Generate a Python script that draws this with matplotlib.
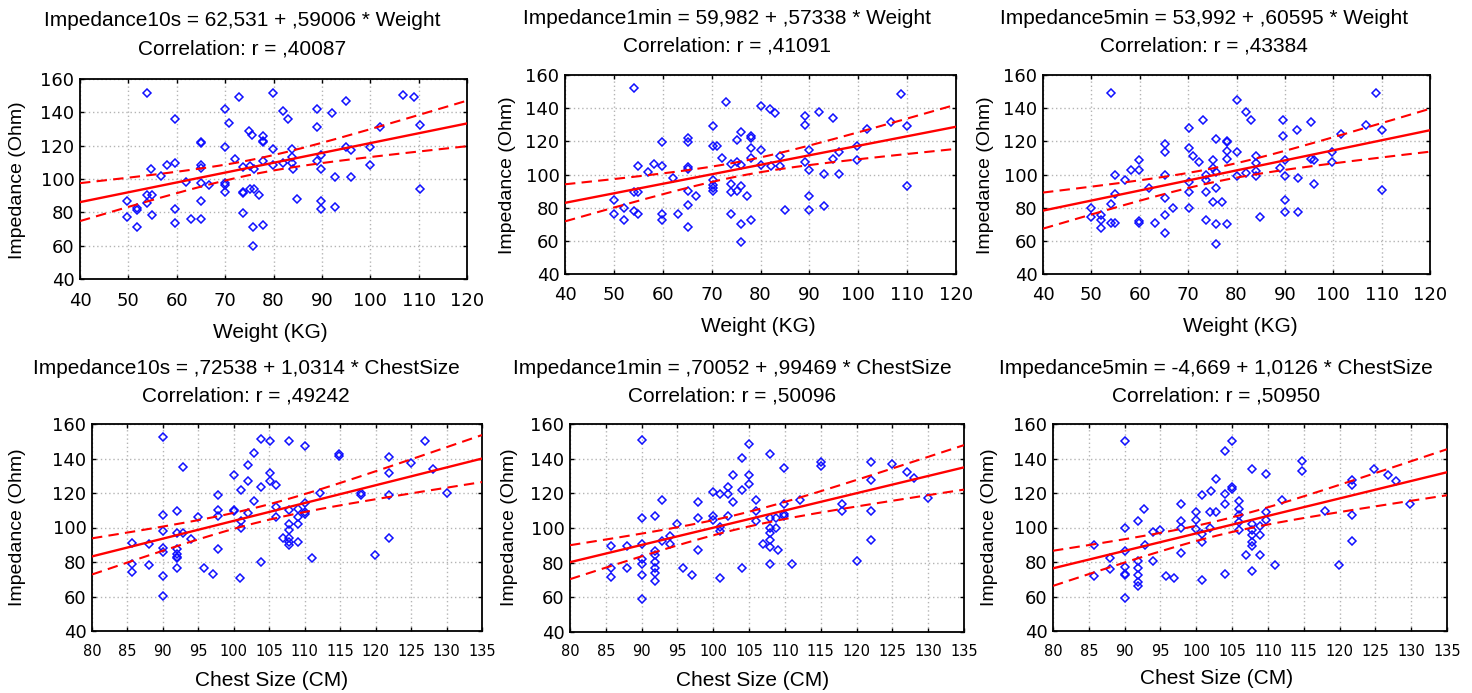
import numpy as np
import matplotlib
matplotlib.use("Agg")
import matplotlib.pyplot as plt
from matplotlib import font_manager

W, H = 1472, 693

# scatter points (x, impedance)
w10 = [(53.9, 151.4), (59.6, 135.8), (65.1, 122.4), (65.1, 121.4), (70.0, 141.8), (70.8, 133.4), (72.9, 149.0), (74.9, 128.8),
       (75.6, 126.4), (77.9, 125.8), (77.9, 123.0), (77.9, 122.4), (79.9, 151.4), (82.0, 141.0), (82.9, 136.0), (89.0, 142.0),
       (89.0, 131.0), (92.0, 139.4), (94.9, 146.8), (102.0, 131.4), (106.8, 150.4), (109.0, 149.2), (110.2, 132.4), (110.2, 93.8),
       (70.0, 119.4), (72.0, 112.0), (73.7, 107.2), (75.1, 107.6), (75.9, 105.8), (77.9, 110.6), (79.9, 118.0), (79.9, 108.4),
       (82.0, 109.4), (83.9, 118.0), (83.9, 113.4), (83.9, 109.4), (84.1, 105.8), (89.0, 110.8), (89.9, 114.4), (89.9, 105.8),
       (92.8, 101.0), (94.9, 119.4), (96.1, 117.4), (96.1, 101.0), (99.9, 119.4), (99.9, 108.4), (54.6, 105.8), (58.0, 108.4),
       (59.6, 109.4), (56.7, 102.0), (61.9, 98.4), (65.1, 108.4), (65.1, 106.4), (65.1, 97.4), (66.7, 96.4), (70.0, 97.4),
       (70.0, 96.4), (70.0, 92.4), (73.6, 92.4), (73.6, 91.4), (75.1, 93.8), (75.9, 93.8), (77.0, 90.4), (49.8, 86.8),
       (49.8, 77.0), (51.8, 82.4), (51.8, 81.4), (51.8, 71.0), (53.9, 90.4), (54.8, 90.4), (53.9, 85.4), (54.8, 78.4),
       (59.6, 81.8), (59.6, 73.4), (62.9, 75.8), (65.1, 86.8), (65.1, 75.8), (73.7, 79.4), (75.8, 71.0), (75.8, 60.0),
       (77.9, 72.4), (84.9, 87.8), (89.9, 86.8), (89.9, 81.8), (92.8, 83.0)]

w1m = [(54.1, 152.2), (73.0, 143.8), (80.1, 141.2), (82.0, 139.2), (83.0, 137.3), (89.2, 135.3), (89.2, 130.1), (91.9, 137.8),
       (94.9, 134.1), (108.8, 148.4), (106.7, 131.7), (101.8, 127.7), (110.0, 129.1), (70.2, 129.1), (70.2, 117.1), (71.0, 117.1),
       (59.9, 119.3), (65.2, 122.1), (65.2, 119.3), (65.2, 104.6), (65.2, 103.6), (76.0, 125.7), (75.2, 120.7), (78.0, 123.1),
       (78.0, 122.1), (78.0, 116.1), (78.0, 110.0), (80.1, 114.7), (72.2, 110.0), (73.9, 106.6), (75.2, 107.6), (76.0, 105.6),
       (80.1, 106.0), (82.1, 105.0), (84.0, 111.0), (84.0, 105.0), (89.9, 114.7), (89.2, 107.6), (89.9, 102.6), (94.9, 109.6),
       (96.1, 113.3), (96.1, 100.2), (92.9, 100.2), (99.8, 117.1), (99.8, 108.6), (110.0, 93.0), (54.9, 105.0), (58.2, 106.2),
       (59.9, 105.0), (57.0, 101.6), (62.0, 97.6), (54.1, 89.6), (54.9, 89.6), (50.0, 84.5), (50.0, 76.1), (52.1, 79.5),
       (52.1, 72.5), (54.1, 78.1), (54.9, 76.1), (59.9, 76.1), (59.9, 72.5), (63.1, 76.1), (65.2, 90.2), (65.2, 81.9),
       (65.2, 68.5), (66.9, 87.0), (70.2, 96.6), (70.2, 93.6), (70.2, 91.6), (70.2, 90.0), (73.9, 94.2), (73.9, 89.6),
       (75.2, 90.2), (76.0, 93.0), (73.9, 76.1), (77.2, 87.0), (78.0, 72.5), (76.0, 69.9), (76.0, 59.0), (85.0, 78.5),
       (89.9, 87.0), (89.9, 78.5), (92.9, 80.9)]

w5m = [(54.1, 149.4), (108.8, 149.4), (80.1, 145.0), (82.0, 137.6), (83.0, 132.6), (73.0, 132.6), (70.2, 128.0), (89.6, 132.6),
       (89.6, 123.0), (92.5, 126.6), (95.4, 131.4), (106.7, 130.0), (110.0, 126.6), (101.7, 124.4), (75.8, 121.6), (78.0, 120.4),
       (78.0, 119.6), (78.0, 114.4), (78.0, 109.6), (80.1, 113.4), (65.2, 118.4), (65.2, 113.4), (70.2, 116.0), (71.0, 111.0),
       (72.3, 107.4), (75.1, 108.6), (75.1, 104.0), (75.8, 101.6), (73.7, 99.4), (73.7, 96.4), (84.0, 111.4), (84.0, 107.0),
       (84.0, 102.4), (84.0, 99.0), (82.0, 101.0), (80.1, 99.0), (90.0, 108.6), (89.0, 104.0), (90.0, 99.0), (92.7, 97.6),
       (95.4, 109.6), (96.1, 108.6), (96.1, 94.4), (99.8, 113.6), (99.8, 107.4), (110.0, 90.6), (59.9, 108.6), (59.9, 102.6),
       (58.2, 102.6), (57.0, 96.6), (54.9, 100.0), (54.8, 88.0), (54.1, 82.0), (50.0, 79.6), (50.0, 74.6), (52.0, 75.6),
       (52.0, 72.4), (52.0, 67.6), (54.1, 71.0), (54.9, 71.0), (59.9, 72.0), (59.9, 71.0), (62.0, 91.6), (63.2, 71.0),
       (65.2, 100.0), (65.2, 85.6), (65.2, 75.6), (65.2, 65.0), (66.9, 79.6), (70.2, 95.4), (70.2, 89.4), (70.2, 79.6),
       (73.7, 89.4), (73.7, 72.4), (75.8, 91.6), (75.1, 83.4), (77.1, 83.4), (75.8, 70.0), (78.0, 70.0), (75.8, 58.0),
       (84.9, 74.6), (90.0, 84.4), (90.0, 77.4), (92.7, 77.4)]

c10 = [(90.0, 152.4), (92.8, 135.0), (103.9, 151.1), (105.1, 149.9), (107.8, 150.1), (127.0, 150.1), (110.0, 147.0), (102.8, 143.1),
       (102.0, 136.3), (100.0, 130.5), (105.1, 131.7), (105.1, 126.8), (106.0, 124.7), (102.0, 126.8), (101.0, 121.9), (103.9, 123.3),
       (102.9, 115.1), (97.8, 118.8), (114.9, 142.7), (114.9, 141.7), (121.9, 140.8), (121.9, 131.7), (121.9, 118.8), (125.0, 137.5),
       (128.1, 134.0), (118.0, 119.8), (118.0, 118.8), (112.1, 120.0), (130.0, 120.0), (121.9, 94.2), (119.9, 83.9), (111.0, 82.5),
       (110.0, 114.0), (110.0, 108.7), (110.0, 107.8), (109.0, 110.7), (109.0, 105.8), (109.0, 102.3), (109.0, 91.8), (107.8, 110.3),
       (107.8, 102.3), (107.8, 98.6), (107.8, 94.2), (107.8, 91.8), (107.8, 89.7), (106.9, 94.2), (106.0, 111.7), (106.0, 105.8),
       (102.0, 108.3), (101.0, 103.9), (101.0, 100.0), (100.0, 110.3), (100.0, 109.3), (97.8, 110.3), (97.8, 106.8), (97.8, 87.4),
       (95.0, 106.2), (93.9, 93.2), (92.8, 96.7), (92.0, 109.3), (92.0, 96.7), (92.0, 87.4), (92.0, 84.5), (92.0, 82.9),
       (92.0, 82.1), (92.0, 76.7), (90.0, 107.2), (90.0, 97.7), (90.0, 88.3), (90.0, 86.0), (90.0, 71.8), (90.0, 60.2),
       (85.7, 91.3), (85.7, 79.0), (85.7, 74.4), (88.0, 90.7), (88.0, 78.1), (95.8, 76.7), (97.0, 73.2), (100.9, 70.9),
       (103.9, 80.0)]

c1m = [(90.0, 150.9), (105.0, 148.6), (104.0, 140.5), (107.9, 142.8), (109.9, 134.7), (115.0, 138.3), (115.0, 136.0), (122.0, 138.0),
       (125.0, 137.0), (127.0, 132.2), (128.0, 128.9), (122.0, 127.8), (102.8, 130.3), (105.0, 130.3), (105.0, 125.4), (102.0, 123.5),
       (102.0, 119.7), (104.0, 122.1), (100.0, 120.6), (100.9, 119.7), (102.8, 114.8), (92.8, 116.2), (97.8, 114.8), (105.9, 116.2),
       (105.9, 110.0), (105.9, 103.9), (112.1, 116.2), (109.9, 113.9), (109.9, 108.1), (109.9, 107.1), (107.9, 105.6), (108.8, 105.6),
       (107.9, 100.0), (107.9, 96.9), (107.9, 93.1), (107.9, 89.2), (108.8, 100.0), (107.0, 90.8), (109.0, 87.3), (107.9, 79.2),
       (111.0, 79.2), (117.9, 113.9), (118.0, 110.0), (122.0, 110.0), (122.0, 93.1), (120.0, 81.1), (130.0, 117.3), (100.0, 107.1),
       (100.0, 104.6), (100.9, 100.4), (100.9, 98.5), (102.0, 106.7), (97.8, 105.6), (97.8, 87.3), (95.0, 102.3), (93.9, 95.2),
       (93.9, 90.8), (92.8, 92.7), (91.9, 106.7), (90.0, 105.8), (90.0, 90.8), (90.0, 82.1), (90.0, 79.2), (90.0, 73.0),
       (90.0, 59.0), (91.9, 86.9), (91.9, 84.6), (91.9, 80.2), (91.9, 76.9), (91.9, 73.8), (91.9, 69.6), (85.7, 89.4),
       (85.7, 76.9), (85.7, 71.9), (87.9, 89.8), (87.9, 76.9), (95.8, 76.9), (97.0, 73.0), (100.9, 71.1), (104.0, 76.9)]

c5m = [(90.0, 150.1), (105.0, 150.1), (104.0, 144.3), (114.8, 138.5), (114.8, 132.7), (109.8, 131.3), (107.8, 133.8), (102.8, 128.0),
       (105.0, 123.2), (105.0, 122.2), (102.0, 121.1), (100.8, 118.8), (104.0, 119.7), (104.0, 113.9), (105.9, 115.3), (105.9, 110.6),
       (105.9, 107.2), (105.9, 103.3), (105.9, 98.5), (101.9, 109.1), (102.8, 109.1), (100.0, 109.1), (100.0, 104.3), (100.0, 99.4),
       (100.8, 96.5), (100.8, 91.7), (101.9, 99.8), (97.8, 113.9), (97.8, 103.7), (97.8, 99.8), (97.8, 85.3), (95.0, 98.5),
       (93.9, 97.5), (92.8, 89.7), (92.7, 110.6), (91.9, 103.7), (90.0, 100.0), (90.0, 86.3), (90.0, 77.2), (90.0, 73.3),
       (90.0, 72.4), (90.0, 59.2), (91.9, 80.5), (91.9, 76.6), (91.9, 72.4), (91.9, 68.5), (91.9, 66.2), (93.9, 80.5),
       (95.8, 72.0), (96.9, 70.8), (100.8, 69.8), (104.0, 73.3), (107.8, 102.3), (107.8, 98.8), (107.8, 95.6), (107.8, 91.7),
       (107.8, 89.2), (107.8, 74.7), (107.0, 83.9), (108.9, 100.8), (108.9, 95.6), (108.9, 83.9), (109.8, 109.1), (109.8, 104.6),
       (111.0, 78.1), (112.0, 116.2), (117.9, 109.7), (119.9, 78.1), (121.8, 127.5), (121.8, 124.6), (121.8, 107.2), (121.8, 92.1),
       (124.8, 133.8), (126.8, 130.4), (127.9, 126.9), (129.9, 113.9), (85.7, 89.7), (88.0, 82.4), (85.7, 72.0), (88.0, 75.8)]

# regression coefficients (intercept, slope) and r from the titles
names = ["Impedance10s", "Impedance1min", "Impedance5min"] * 2
intercepts = [62.531, 59.982, 53.992, 0.72538, 0.70052, -4.669]
slopes = [0.59006, 0.57338, 0.60595, 1.0314, 0.99469, 1.0126]
coef_txt = [("62,531", ",59006"), ("59,982", ",57338"), ("53,992", ",60595"),
            (",72538", "1,0314"), (",70052", ",99469"), ("-4,669", "1,0126")]
r_txt = [",40087", ",41091", ",43384", ",49242", ",50096", ",50950"]
predictor = ["Weight"] * 3 + ["ChestSize"] * 3
xlabels = ["Weight (KG)"] * 3 + ["Chest Size (CM)"] * 3
weight_ticks = list(range(40, 121, 10))
chest_ticks = list(range(80, 136, 5))
imp_ticks = list(range(40, 161, 20))

panels = [w10, w1m, w5m, c10, c1m, c5m]

# axes boxes in pixels: left, top, right, bottom
boxes = [(80, 79, 467, 279), (565, 75, 956, 274), (1043, 75, 1430, 274),
         (92, 424, 482, 631), (570, 424, 964, 632), (1053, 424, 1447, 631)]
title_x = [242, 727, 1204, 246, 732, 1216]
title_y = [(21, 49), (18, 46), (18, 46), (368, 396), (368, 396), (368, 396)]
xlab_pos = [(270, 332), (758, 327), (1240, 327), (272, 680), (753, 680), (1217, 678)]
ylab_pos = [(18, 180), (507, 175), (985, 175), (18, 527), (510, 527), (990, 527)]

installed = {f.name for f in font_manager.fontManager.ttflist}
narrow = "Liberation Sans Narrow" if "Liberation Sans Narrow" in installed else "DejaVu Sans"

fig = plt.figure(figsize=(W / 100, H / 100), dpi=100)
txt_font = ["Liberation Sans", "DejaVu Sans"]
tick_font = ["DejaVu Sans"]

for i, pts in enumerate(panels):
    l, t, r, b = boxes[i]
    ax = fig.add_axes([l / W, 1 - b / H, (r - l) / W, (b - t) / H])
    xs = np.array([p[0] for p in pts])
    ys = np.array([p[1] for p in pts])
    xt = weight_ticks if i < 3 else chest_ticks
    ax.set_xlim(xt[0], xt[-1])
    ax.set_ylim(40, 160)
    ax.set_xticks(xt)
    ax.set_yticks(imp_ticks)
    ax.grid(True, color="#b4b4b4", linestyle=(0, (1, 2)), linewidth=1)
    ax.set_axisbelow(True)

    # fitted line and 95% confidence band
    a, bslope = intercepts[i], slopes[i]
    n = len(xs)
    resid = ys - (a + bslope * xs)
    s = np.sqrt(np.sum(resid ** 2) / (n - 2))
    sxx = np.sum((xs - xs.mean()) ** 2)
    gx = np.linspace(xt[0], xt[-1], 200)
    fit = a + bslope * gx
    half = 1.985 * s * np.sqrt(1.0 / n + (gx - xs.mean()) ** 2 / sxx)
    ax.plot(xs, ys, linestyle="none", marker="D", markersize=4.0, mfc="none",
            mec="#1010ff", mew=1.1, zorder=3)
    ax.plot(gx, fit, color="#ff0000", linewidth=1.7, zorder=4)
    ax.plot(gx, fit + half, color="#ff0000", linewidth=1.5, dashes=(5, 3), zorder=4)
    ax.plot(gx, fit - half, color="#ff0000", linewidth=1.5, dashes=(5, 3), zorder=4)

    for sp in ax.spines.values():
        sp.set_linewidth(1.3)
    ax.tick_params(direction="in", length=3, width=1, top=True, right=True,
                   labelsize=13, pad=4)
    ax.tick_params(axis="x", pad=9)
    for lab in ax.get_xticklabels() + ax.get_yticklabels():
        lab.set_family(tick_font)
    if i >= 3:
        for lab in ax.get_xticklabels():
            if narrow == "DejaVu Sans":
                lab.set_fontsize(10.5)
            else:
                lab.set_family([narrow])
                lab.set_fontsize(12.5)

    c0, c1 = coef_txt[i]
    fig.text(title_x[i] / W, 1 - title_y[i][0] / H,
             "%s = %s + %s * %s" % (names[i], c0, c1, predictor[i]),
             ha="center", va="center", fontsize=15, family=txt_font)
    fig.text(title_x[i] / W, 1 - title_y[i][1] / H, "Correlation: r = %s" % r_txt[i],
             ha="center", va="center", fontsize=15, family=txt_font)
    fig.text(xlab_pos[i][0] / W, 1 - xlab_pos[i][1] / H, xlabels[i],
             ha="center", va="center", fontsize=15, family=txt_font)
    fig.text(ylab_pos[i][0] / W, 1 - ylab_pos[i][1] / H, "Impedance (Ohm)",
             ha="center", va="center", rotation=90, fontsize=14, family=txt_font)

fig.savefig("out.png", dpi=100)
